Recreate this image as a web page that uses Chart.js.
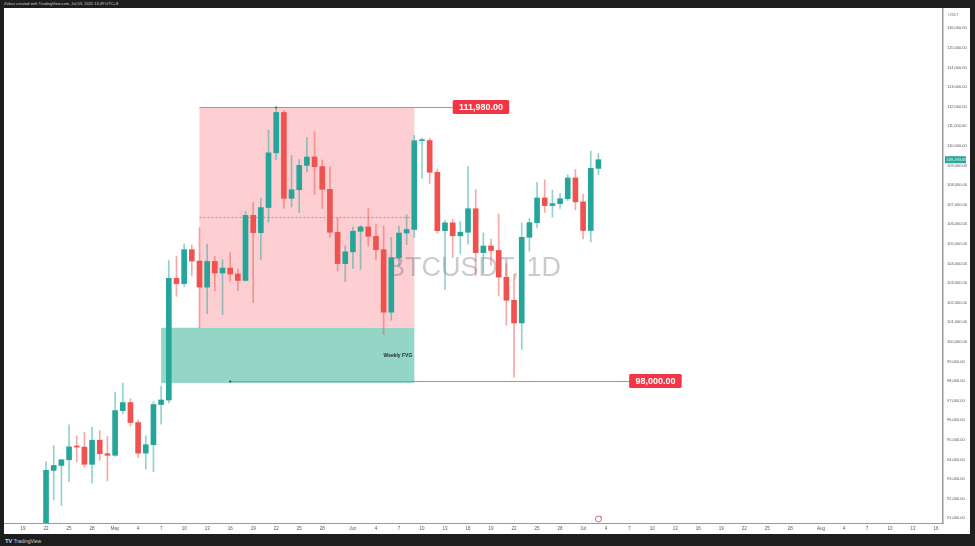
<!DOCTYPE html>
<html>
<head>
<meta charset="utf-8">
<script src="https://cdn.jsdelivr.net/npm/chart.js@4/dist/chart.umd.min.js"></script>
<style>
  html, body { margin: 0; padding: 0; width: 975px; height: 546px; overflow: hidden; background: #1e1e1e; font-family: "Liberation Sans", Arial, sans-serif; }
  #head { position: absolute; left: 4px; top: 1px; font-size: 4px; line-height: 6px; color: #cfcfcf; white-space: nowrap; }
  #wrap { position: absolute; left: 4px; top: 8px; width: 966px; height: 526px; background: #fff; }
  #foot { position: absolute; left: 5px; top: 538px; font-size: 5px; line-height: 6px; color: #d0d0d0; white-space: nowrap; }
  #foot b { font-size: 6px; letter-spacing: -0.5px; margin-right: 2px; }
</style>
</head>
<body>
  <div id="head">Zokus created with TradingView.com, Jul 03, 2025 13:49 UTC+8</div>
  <div id="wrap"><canvas id="chart" width="966" height="526"></canvas></div>
  <div id="foot"><b>TV</b>TradingView</div>
  <script>
    // daily candles, BTCUSDT
    const dates = [
      '2025-04-22', '2025-04-23', '2025-04-24', '2025-04-25', '2025-04-26', '2025-04-27', '2025-04-28', '2025-04-29', '2025-04-30',
      '2025-05-01', '2025-05-02', '2025-05-03', '2025-05-04', '2025-05-05', '2025-05-06', '2025-05-07', '2025-05-08', '2025-05-09',
      '2025-05-10', '2025-05-11', '2025-05-12', '2025-05-13', '2025-05-14', '2025-05-15', '2025-05-16', '2025-05-17', '2025-05-18',
      '2025-05-19', '2025-05-20', '2025-05-21', '2025-05-22', '2025-05-23', '2025-05-24', '2025-05-25', '2025-05-26', '2025-05-27',
      '2025-05-28', '2025-05-29', '2025-05-30', '2025-05-31', '2025-06-01', '2025-06-02', '2025-06-03', '2025-06-04', '2025-06-05',
      '2025-06-06', '2025-06-07', '2025-06-08', '2025-06-09', '2025-06-10', '2025-06-11', '2025-06-12', '2025-06-13', '2025-06-14',
      '2025-06-15', '2025-06-16', '2025-06-17', '2025-06-18', '2025-06-19', '2025-06-20', '2025-06-21', '2025-06-22', '2025-06-23',
      '2025-06-24', '2025-06-25', '2025-06-26', '2025-06-27', '2025-06-28', '2025-06-29', '2025-06-30', '2025-07-01', '2025-07-02',
      '2025-07-03'
    ];
    const opens = [
      87520, 93440, 93690, 93980, 94640, 94630, 93750, 94980, 94290,
      94210, 96490, 96900, 95880, 94320, 94750, 96800, 97030, 103240,
      102970, 104700, 104120, 102790, 104100, 103510, 103760, 103460, 103130,
      106450, 105570, 106850, 109640, 111700, 107320, 107760, 109000, 109430,
      108940, 107780, 105590, 103990, 104590, 105640, 105860, 105380, 104700,
      101510, 104290, 105550, 105730, 110260, 110270, 108650, 105670, 106070,
      105410, 105590, 106790, 104550, 104890, 104660, 103300, 102120, 100960,
      105330, 106080, 107340, 106950, 107050, 107300, 108360, 107140, 105680,
      108850
    ];
    const highs = [
      93890, 94700, 94000, 95770, 95200, 95370, 95630, 95470, 95180,
      97440, 97900, 97100, 96000, 95200, 96950, 97730, 104150, 104360,
      104980, 104940, 105820, 104980, 104360, 104190, 104550, 103710, 106660,
      107110, 107320, 110800, 111980, 111800, 109510, 109300, 110420, 110720,
      109280, 108910, 106310, 104900, 105870, 105940, 106790, 106000, 105910,
      105330, 105900, 106490, 110530, 110400, 110390, 108810, 106180, 106250,
      106130, 108950, 107770, 105550, 105240, 106520, 103980, 103400, 106070,
      106290, 108140, 108270, 107740, 107580, 108530, 108790, 107540, 109730,
      109600
    ];
    const lows = [
      87080, 91930, 91660, 92860, 93870, 93600, 92800, 93950, 92910,
      94150, 96330, 95700, 94090, 93510, 93380, 95800, 96880, 102320,
      102820, 103350, 100720, 101430, 102600, 101380, 103100, 102610, 103100,
      102000, 104180, 106100, 109290, 106800, 106880, 106600, 108670, 107520,
      106800, 105320, 103620, 103070, 103750, 103700, 104870, 104180, 100370,
      101100, 103870, 104960, 105320, 108330, 108060, 105550, 102660, 104300,
      104490, 104980, 103370, 103500, 103910, 102350, 100840, 98200, 99610,
      104620, 105810, 106600, 106360, 106800, 107200, 106730, 105250, 105100,
      108530
    ];
    const closes = [
      93440, 93690, 93980, 94640, 94630, 93750, 94980, 94290, 94210,
      96490, 96900, 95880, 94320, 94750, 96800, 97030, 103240, 102970,
      104700, 104120, 102790, 104100, 103510, 103760, 103460, 103130, 106450,
      105570, 106850, 109640, 111700, 107320, 107760, 109000, 109430, 108940,
      107780, 105590, 103990, 104590, 105640, 105860, 105380, 104700, 101510,
      104290, 105550, 105730, 110260, 110270, 108650, 105670, 106070, 105410,
      105590, 106790, 104550, 104890, 104660, 103300, 102120, 100960, 105330,
      106080, 107340, 106950, 107050, 107300, 108360, 107140, 105680, 108850,
      109290
    ];

    // drawn zones: [from, to, low, high]
    const rangeBox = ['2025-05-12', '2025-06-09', 100718, 111980];
    const fvgBox = ['2025-05-07', '2025-06-09', 97900, 100718];
    const levelPrices = [111980, 98000];
    const levelFrom = ['2025-05-12', '2025-05-16'];
    const levelDots = ['2025-05-22', '2025-05-16'];
    const levelTo = ['2025-06-14', '2025-07-07'];

    const xTickDates = [
      '2025-04-19', '2025-04-22', '2025-04-25', '2025-04-28', '2025-05-01', '2025-05-04', '2025-05-07', '2025-05-10',
      '2025-05-13', '2025-05-16', '2025-05-19', '2025-05-22', '2025-05-25', '2025-05-28', '2025-06-01', '2025-06-04',
      '2025-06-07', '2025-06-10', '2025-06-13', '2025-06-16', '2025-06-19', '2025-06-22', '2025-06-25', '2025-06-28',
      '2025-07-01', '2025-07-04', '2025-07-07', '2025-07-10', '2025-07-13', '2025-07-16', '2025-07-19', '2025-07-22',
      '2025-07-25', '2025-07-28', '2025-08-01', '2025-08-04', '2025-08-07', '2025-08-10', '2025-08-13', '2025-08-16'
    ];
    const xTickLabels = [
      '19', '22', '25', '28', 'May', '4', '7', '10', '13', '16', '19', '22', '25', '28', 'Jun', '4',
      '7', '10', '13', '16', '19', '22', '25', '28', 'Jul', '4', '7', '10', '13', '16', '19', '22',
      '25', '28', 'Aug', '4', '7', '10', '13', '16'
    ];
    const yTicks = [
      91000, 92000, 93000, 94000, 95000, 96000, 97000, 98000, 99000, 100000, 101000, 102000, 103000,
      104000, 105000, 106000, 107000, 108000, 109000, 110000, 111000, 112000, 113000, 114000, 115000, 116000
    ];

    const day = d => (Date.parse(d) - Date.parse('2025-04-01')) / 864e5;
    const fmt = v => v.toLocaleString('en-US', { minimumFractionDigits: 2, maximumFractionDigits: 2 });

    const up = '#26a69a', down = '#ef5350';
    const isUp = closes.map((c, i) => c >= opens[i]);

    const overlays = {
      id: 'overlays',
      beforeDatasetsDraw(chart) {
        const { ctx, chartArea: a, scales: { x, y } } = chart;
        ctx.save();
        ctx.beginPath();
        ctx.rect(a.left, a.top, a.width, a.height);
        ctx.clip();

        // range box
        let x0 = x.getPixelForValue(day(rangeBox[0])), x1 = x.getPixelForValue(day(rangeBox[1]));
        let y0 = y.getPixelForValue(rangeBox[3]), y1 = y.getPixelForValue(rangeBox[2]);
        ctx.fillStyle = '#fdcfd2';
        ctx.fillRect(x0, y0, x1 - x0, y1 - y0);
        // midline
        const ym = y.getPixelForValue((rangeBox[2] + rangeBox[3]) / 2);
        ctx.strokeStyle = '#8a8a8a';
        ctx.lineWidth = 0.8;
        ctx.setLineDash([2, 2]);
        ctx.beginPath();
        ctx.moveTo(x0, Math.round(ym) + 0.5);
        ctx.lineTo(x1, Math.round(ym) + 0.5);
        ctx.stroke();
        ctx.setLineDash([]);

        // fvg box
        x0 = x.getPixelForValue(day(fvgBox[0])); x1 = x.getPixelForValue(day(fvgBox[1]));
        y0 = y.getPixelForValue(fvgBox[3]); y1 = y.getPixelForValue(fvgBox[2]);
        ctx.fillStyle = '#93d6c6';
        ctx.fillRect(x0, y0, x1 - x0, y1 - y0);
        ctx.fillStyle = '#2a2e39';
        ctx.font = 'bold 5px "Liberation Sans", Arial';
        ctx.textAlign = 'right';
        ctx.textBaseline = 'middle';
        ctx.fillText('Weekly FVG', x1 - 2, (y0 + y1) / 2);

        // levels
        levelPrices.forEach((p, i) => {
          const yy = Math.round(y.getPixelForValue(p)) + 0.5;
          ctx.strokeStyle = '#9a9a9a';
          ctx.lineWidth = 1;
          ctx.beginPath();
          ctx.moveTo(x.getPixelForValue(day(levelFrom[i])), yy);
          ctx.lineTo(x.getPixelForValue(day(levelTo[i])), yy);
          ctx.stroke();
          ctx.fillStyle = '#333';
          ctx.beginPath();
          ctx.arc(x.getPixelForValue(day(levelDots[i])), yy, 1, 0, Math.PI * 2);
          ctx.fill();
        });

        // watermark
        ctx.fillStyle = 'rgba(95, 98, 108, 0.33)';
        ctx.font = '27px "Liberation Sans", Arial';
        ctx.textAlign = 'center';
        ctx.textBaseline = 'middle';
        ctx.fillText('BTCUSDT, 1D', 470, 261);
        ctx.restore();
      },
      afterDatasetsDraw(chart) {
        const { ctx, chartArea: a, scales: { x, y } } = chart;
        ctx.save();
        // level price labels
        ctx.font = 'bold 9px "Liberation Sans", Arial';
        ctx.textAlign = 'center';
        ctx.textBaseline = 'middle';
        levelPrices.forEach((p, i) => {
          const yy = y.getPixelForValue(p);
          const lx = x.getPixelForValue(day(levelTo[i]));
          const w = ctx.measureText(fmt(p)).width + 12.5;
          ctx.fillStyle = '#f23645';
          ctx.beginPath();
          ctx.roundRect(lx, yy - 7, w, 14, 1.5);
          ctx.fill();
          ctx.fillStyle = '#fff';
          ctx.fillText(fmt(p), lx + w / 2, yy + 0.5);
        });
        // event marker
        const ex = x.getPixelForValue(day(dates[dates.length - 1]));
        ctx.strokeStyle = '#ab47bc';
        ctx.lineWidth = 0.8;
        ctx.beginPath();
        ctx.arc(ex, a.bottom - 4, 3, 0, Math.PI * 2);
        ctx.stroke();
        ctx.fillStyle = '#f57c00';
        ctx.beginPath();
        ctx.arc(ex + 2.3, a.bottom - 6.3, 0.9, 0, Math.PI * 2);
        ctx.fill();
        ctx.restore();
      },
      afterDraw(chart) {
        const { ctx, chartArea: a, scales: { y } } = chart;
        ctx.save();
        ctx.fillStyle = '#787b86';
        ctx.font = '4px "Liberation Sans", Arial';
        ctx.textAlign = 'left';
        ctx.textBaseline = 'middle';
        ctx.fillText('USDT', a.right + 5, 7);
        // last price tag
        const last = closes[closes.length - 1];
        const py = y.getPixelForValue(last);
        ctx.fillStyle = up;
        ctx.fillRect(a.right + 2, py - 3.5, 21, 7);
        ctx.fillStyle = '#fff';
        ctx.fillText(fmt(last + 3.69), a.right + 3.5, py);
        ctx.restore();
      }
    };

    new Chart('chart', {
      type: 'bar',
      data: {
        datasets: [{
          data: dates.map((d, i) => ({ x: day(d), y: [lows[i], highs[i]] })),
          backgroundColor: isUp.map(u => u ? 'rgba(38,166,154,0.5)' : 'rgba(239,83,80,0.5)'),
          barThickness: 1,
          grouped: false,
          borderWidth: 0
        }, {
          data: dates.map((d, i) => ({ x: day(d), y: [opens[i], closes[i]] })),
          backgroundColor: isUp.map(u => u ? up : down),
          barThickness: 5,
          grouped: false,
          borderWidth: 0,
          minBarLength: 1
        }]
      },
      options: {
        responsive: false,
        animation: false,
        layout: { padding: 0 },
        plugins: { legend: { display: false }, tooltip: { enabled: false } },
        scales: {
          x: {
            type: 'linear',
            min: 15.52,
            max: 137.91,
            offset: false,
            grid: { display: false, offset: false, drawTicks: false },
            border: { color: '#9a9a9a' },
            ticks: {
              font: { size: 4.5, family: '"Liberation Sans", Arial' },
              color: '#555',
              padding: 3,
              autoSkip: false,
              maxRotation: 0,
              callback: (v, i) => xTickLabels[i]
            },
            afterBuildTicks: s => { s.ticks = xTickDates.map(d => ({ value: day(d) })); },
            afterFit: s => { s.height = 11; s.paddingLeft = 0; s.paddingRight = 0; }
          },
          y: {
            position: 'right',
            beginAtZero: false,
            min: 90755,
            max: 117031,
            grid: { display: false, drawTicks: false },
            border: { color: '#9a9a9a', width: 1.5 },
            ticks: {
              font: { size: 4, family: '"Liberation Sans", Arial' },
              color: '#555',
              padding: 4,
              autoSkip: false,
              callback: v => fmt(v)
            },
            afterBuildTicks: s => { s.ticks = yTicks.map(v => ({ value: v })); },
            afterFit: s => { s.width = 27; s.paddingTop = 0; s.paddingBottom = 0; }
          }
        }
      },
      plugins: [overlays]
    });
  </script>
</body>
</html>
